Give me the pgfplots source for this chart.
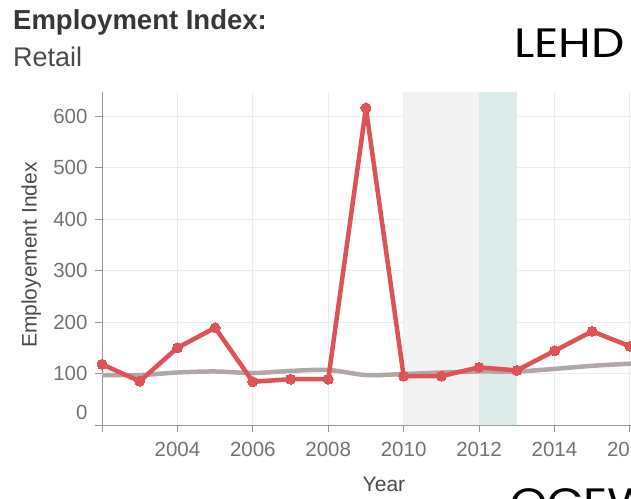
\documentclass[border=0pt]{standalone}
\usepackage{pgfplots}
\pgfplotsset{compat=1.18}
\usepackage{fontspec}
\setmainfont{Liberation Sans}
\newfontfamily\poppins{Poppins}[FakeStretch=1.15]
\definecolor{redline}{RGB}{222,82,88}
\definecolor{grayline}{RGB}{175,168,165}
\definecolor{bandgray}{RGB}{243,243,243}
\definecolor{bandteal}{RGB}{221,235,233}
\definecolor{gridc}{RGB}{236,236,236}
\definecolor{axisc}{RGB}{150,150,150}
\definecolor{tickc}{RGB}{115,115,115}
\definecolor{titlec}{RGB}{55,55,55}
\definecolor{subc}{RGB}{75,75,75}
\begin{document}
\begin{tikzpicture}[x=1pt,y=1pt]
\useasboundingbox (0,0) rectangle (631,498);
\clip (0,0) rectangle (631,498);
\node[anchor=base west, inner sep=0, font=\fontsize{27.5}{30}\selectfont\bfseries, text=titlec] at (13,468) {Employment Index:};
\node[anchor=base west, inner sep=0, font=\fontsize{27}{30}\selectfont, text=subc] at (13,431) {Retail};
\node[anchor=base west, inner sep=0, font=\poppins\fontsize{41}{45}\selectfont] at (514,440) {LEHD};
\node[anchor=base west, inner sep=0, font=\poppins\fontsize{41}{45}\selectfont] at (510,-19) {QCEW};
\begin{axis}[
  at={(102pt,73pt)}, anchor=south west,
  scale only axis, width=529pt, height=333pt,
  xmin=2002, xmax=2016.03, ymin=0, ymax=647,
  axis x line*=bottom, axis y line*=left,
  axis line style={axisc, line width=1pt},
  xtick={2002,2004,...,2016},
  xticklabels={,2004,2006,2008,2010,2012,2014,2016},
  ytick={100,200,...,600},
  extra y ticks={0},
  extra y tick style={yticklabel style={yshift=13pt}, grid=none},
  tick align=outside, major tick length=7pt,
  tick style={axisc, line width=0.8pt},
  grid=major, major grid style={gridc, line width=0.8pt},
  /pgf/number format/assume math mode=true,
  /pgf/number format/1000 sep={},
  ticklabel style={font=\fontsize{20.5}{22}\selectfont, text=tickc},
  xticklabel style={yshift=-7pt},
  yticklabel style={xshift=-4pt},
  xlabel={Year}, ylabel={Employement Index},
  label style={font=\fontsize{21}{24}\selectfont, text=subc},
  xlabel style={at={(axis description cs:0.533,-0.177)}, anchor=center},
  ylabel style={at={(axis description cs:-0.134,0.51)}, anchor=center, rotate=0},
  clip=true,
]
\addplot[fill=bandgray, draw=none] coordinates {(2010,0) (2010,647) (2012,647) (2012,0)} \closedcycle;
\addplot[fill=bandteal, draw=none] coordinates {(2012,0) (2012,647) (2013,647) (2013,0)} \closedcycle;
\addplot[grayline, line width=4.5pt, smooth, no marks] coordinates {
(2002,97) (2003,97) (2004,102) (2005,104) (2006,101) (2007,105) (2008,107) (2009,97) (2010,99) (2011,102) (2012,104) (2013,104) (2014,109) (2015,115) (2016,119) (2017,121)};
\addplot[redline, line width=4.5pt, line join=round, mark=*, mark size=5pt, mark options={fill=redline, draw=redline, line width=0pt}] coordinates {
(2002,118) (2003,85) (2004,150) (2005,189) (2006,84) (2007,89) (2008,89) (2009,616) (2010,95) (2011,95) (2012,112) (2013,106) (2014,144) (2015,182) (2016,153) (2017,140)};
\end{axis}
\end{tikzpicture}
\end{document}
